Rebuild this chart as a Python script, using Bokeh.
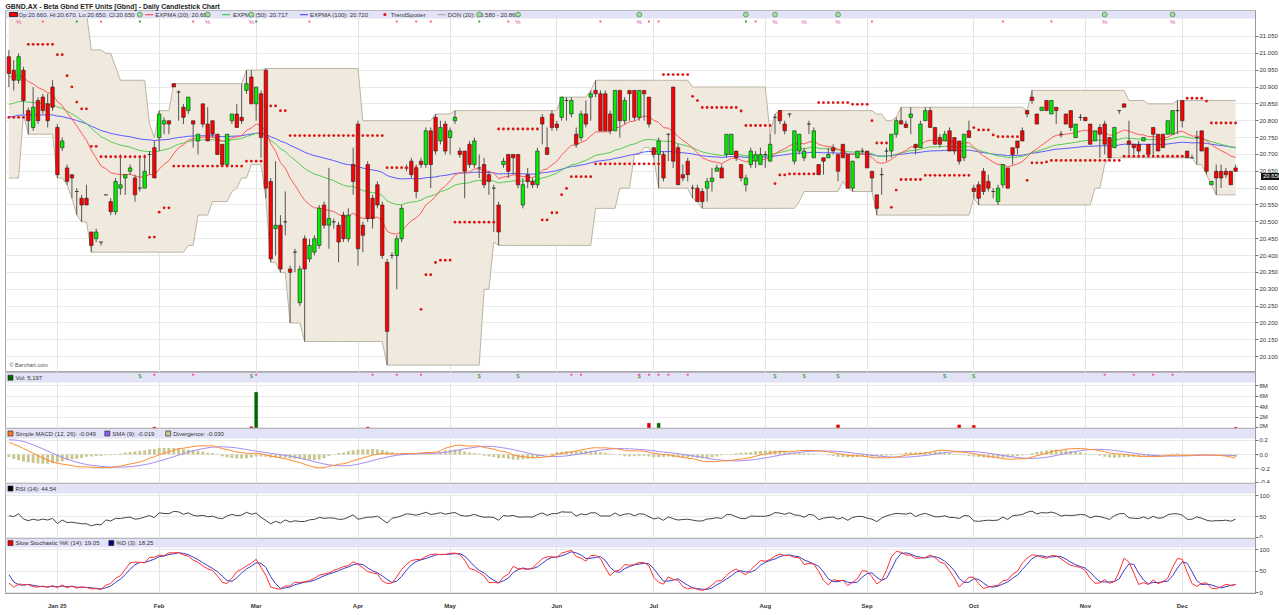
import numpy as np
from bokeh.plotting import figure
from bokeh.layouts import column
from bokeh.models import Range1d, FixedTicker, NumeralTickFormatter, PrintfTickFormatter, Label, Div
from bokeh.core.properties import value
from bokeh.embed import file_html
from bokeh.resources import INLINE

FONT = "Liberation Sans"
title_text = "GBND.AX - Beta Gbnd ETF Units [Gbnd] - Daily Candlestick Chart"

month_ticks = [10, 31, 51, 72, 91, 113, 133, 156, 177, 199, 222, 242]
month_labels = ["Jan 25", "Feb", "Mar", "Apr", "May", "Jun", "Jul", "Aug", "Sep", "Oct", "Nov", "Dec"]

# ---- daily OHLC (bar index 0 = 16 Dec 2024) ----
opens = [20.99,20.95,20.92,20.95,20.83,20.78,20.86,20.87,20.85,20.90,
 20.78,20.72,20.66,20.64,20.59,20.57,20.57,20.47,20.45,20.44,
 20.58,20.56,20.53,20.60,20.63,20.65,20.63,20.60,20.60,20.70,
 20.72,20.75,20.79,20.80,20.91,20.885,20.84,20.83,20.80,20.74,
 20.85,20.79,20.80,20.76,20.73,20.67,20.80,20.82,20.81,20.89,
 20.93,20.85,20.88,20.95,20.62,20.48,20.49,20.50,20.36,20.41,
 20.26,20.45,20.39,20.41,20.43,20.55,20.49,20.50,20.49,20.52,
 20.45,20.67,20.79,20.49,20.67,20.57,20.61,20.55,20.38,20.40,
 20.40,20.45,20.66,20.68,20.66,20.68,20.67,20.77,20.81,20.74,
 20.79,20.75,20.80,20.71,20.71,20.73,20.67,20.66,20.67,20.64,
 20.60,20.55,20.67,20.70,20.70,20.70,20.55,20.64,20.62,20.61,
 20.81,20.72,20.82,20.79,20.81,20.86,20.82,20.76,20.75,20.82,
 20.87,20.89,20.88,20.88,20.82,20.77,20.89,20.80,20.89,20.89,
 20.81,20.89,20.87,20.72,20.70,20.70,20.76,20.90,20.72,20.64,
 20.68,20.60,20.60,20.59,20.60,20.62,20.65,20.66,20.70,20.70,
 20.71,20.67,20.61,20.67,20.68,20.67,20.70,20.68,20.81,20.83,
 20.79,20.82,20.68,20.71,20.69,20.79,20.69,20.67,20.69,20.69,
 20.72,20.70,20.73,20.70,20.60,20.69,20.71,20.71,20.65,20.58,
 20.64,20.71,20.71,20.76,20.80,20.79,20.81,20.73,20.72,20.80,
 20.83,20.78,20.75,20.74,20.77,20.75,20.74,20.69,20.77,20.60,
 20.61,20.65,20.62,20.59,20.56,20.61,20.66,20.72,20.74,20.77,
 20.83,20.87,20.82,20.83,20.86,20.82,20.84,20.76,20.82,20.83,
 20.75,20.81,20.81,20.79,20.74,20.78,20.79,20.75,20.72,20.83,
 20.85,20.74,20.73,20.73,20.74,20.73,20.78,20.76,20.76,20.76,
 20.76,20.83,20.86,20.71,20.69,20.75,20.77,20.72,20.61,20.65,
 20.65,20.65,20.65,20.66]
highs = [21.01,20.98,21.00,20.96,20.84,20.90,20.87,20.88,20.88,20.92,
 20.79,20.75,20.67,20.64,20.60,20.58,20.61,20.47,20.48,20.44,
 20.58,20.57,20.63,20.70,20.64,20.67,20.64,20.69,20.70,20.71,
 20.74,20.83,20.81,20.80,20.91,20.89,20.85,20.87,20.80,20.76,
 20.85,20.84,20.80,20.76,20.73,20.76,20.82,20.85,20.91,20.95,
 20.95,20.90,20.89,20.955,20.63,20.68,20.52,20.59,20.37,20.42,
 20.37,20.46,20.45,20.46,20.55,20.56,20.66,20.51,20.50,20.53,
 20.54,20.72,20.80,20.50,20.68,20.58,20.62,20.56,20.39,20.41,
 20.46,20.55,20.67,20.69,20.67,20.69,20.78,20.78,20.82,20.80,
 20.80,20.78,20.83,20.72,20.71,20.74,20.75,20.70,20.69,20.65,
 20.61,20.56,20.69,20.70,20.70,20.70,20.63,20.66,20.63,20.72,
 20.82,20.78,20.83,20.80,20.87,20.87,20.87,20.78,20.83,20.86,
 20.89,20.92,20.89,20.89,20.83,20.89,20.89,20.87,20.89,20.89,
 20.89,20.89,20.87,20.72,20.75,20.71,20.76,20.90,20.73,20.67,
 20.69,20.61,20.61,20.60,20.63,20.66,20.67,20.67,20.76,20.76,
 20.71,20.67,20.64,20.72,20.71,20.72,20.71,20.76,20.82,20.83,
 20.80,20.82,20.77,20.76,20.72,20.80,20.78,20.67,20.69,20.72,
 20.73,20.70,20.73,20.70,20.68,20.71,20.72,20.71,20.65,20.58,
 20.66,20.72,20.76,20.81,20.84,20.80,20.84,20.73,20.80,20.84,
 20.84,20.78,20.76,20.77,20.78,20.75,20.74,20.76,20.80,20.61,
 20.62,20.66,20.64,20.60,20.61,20.67,20.66,20.72,20.74,20.78,
 20.83,20.89,20.82,20.84,20.86,20.86,20.84,20.77,20.82,20.83,
 20.79,20.82,20.81,20.79,20.77,20.79,20.80,20.75,20.78,20.83,
 20.85,20.80,20.73,20.74,20.75,20.73,20.78,20.76,20.76,20.80,
 20.83,20.86,20.86,20.71,20.70,20.77,20.77,20.72,20.62,20.67,
 20.67,20.66,20.65,20.67]
lows = [20.90,20.89,20.91,20.82,20.76,20.77,20.79,20.82,20.78,20.83,
 20.63,20.71,20.61,20.57,20.52,20.50,20.55,20.41,20.44,20.43,
 20.58,20.52,20.52,20.58,20.58,20.64,20.56,20.59,20.60,20.64,
 20.63,20.71,20.76,20.76,20.90,20.80,20.79,20.82,20.72,20.70,
 20.78,20.74,20.75,20.70,20.67,20.67,20.79,20.78,20.79,20.88,
 20.85,20.80,20.69,20.57,20.38,20.40,20.35,20.46,20.20,20.35,
 20.25,20.145,20.38,20.40,20.42,20.48,20.42,20.48,20.38,20.44,
 20.44,20.58,20.37,20.41,20.50,20.48,20.54,20.39,20.075,20.39,
 20.30,20.44,20.65,20.63,20.57,20.66,20.66,20.60,20.70,20.73,
 20.70,20.70,20.79,20.69,20.57,20.66,20.66,20.63,20.60,20.58,
 20.47,20.43,20.66,20.63,20.64,20.60,20.54,20.60,20.60,20.60,
 20.73,20.70,20.77,20.77,20.80,20.80,20.81,20.72,20.74,20.78,
 20.80,20.87,20.77,20.77,20.76,20.77,20.75,20.79,20.80,20.80,
 20.80,20.80,20.78,20.69,20.60,20.62,20.68,20.66,20.61,20.62,
 20.62,20.57,20.56,20.54,20.56,20.59,20.65,20.63,20.69,20.70,
 20.68,20.62,20.59,20.66,20.66,20.67,20.66,20.68,20.76,20.79,
 20.76,20.81,20.67,20.70,20.68,20.76,20.69,20.64,20.64,20.69,
 20.70,20.62,20.69,20.60,20.59,20.69,20.70,20.66,20.59,20.52,
 20.58,20.68,20.69,20.75,20.79,20.78,20.76,20.70,20.72,20.80,
 20.78,20.73,20.72,20.74,20.71,20.70,20.67,20.68,20.75,20.57,
 20.55,20.58,20.59,20.57,20.55,20.60,20.60,20.67,20.70,20.74,
 20.81,20.85,20.79,20.83,20.83,20.82,20.79,20.75,20.79,20.77,
 20.75,20.80,20.80,20.73,20.74,20.69,20.70,20.69,20.72,20.82,
 20.84,20.70,20.70,20.70,20.74,20.70,20.70,20.71,20.72,20.76,
 20.76,20.76,20.78,20.69,20.69,20.67,20.71,20.64,20.61,20.58,
 20.60,20.63,20.61,20.65]
closes = [20.94,20.92,20.99,20.86,20.80,20.84,20.80,20.83,20.80,20.84,
 20.64,20.74,20.62,20.63,20.59,20.55,20.55,20.43,20.47,20.44,
 20.58,20.53,20.62,20.61,20.64,20.66,20.58,20.60,20.65,20.70,
 20.63,20.82,20.80,20.79,20.90,20.885,20.81,20.87,20.79,20.76,
 20.79,20.74,20.76,20.70,20.67,20.76,20.82,20.78,20.80,20.91,
 20.85,20.90,20.75,20.60,20.39,20.49,20.36,20.50,20.35,20.41,
 20.36,20.36,20.43,20.45,20.54,20.49,20.51,20.50,20.44,20.45,
 20.52,20.62,20.42,20.46,20.51,20.51,20.55,20.40,20.175,20.40,
 20.45,20.54,20.66,20.64,20.59,20.67,20.77,20.67,20.71,20.78,
 20.71,20.77,20.81,20.70,20.65,20.67,20.74,20.66,20.61,20.62,
 20.60,20.47,20.68,20.65,20.69,20.61,20.61,20.62,20.61,20.71,
 20.79,20.70,20.78,20.78,20.87,20.86,20.86,20.73,20.82,20.79,
 20.88,20.88,20.77,20.77,20.77,20.89,20.80,20.86,20.88,20.81,
 20.89,20.88,20.79,20.70,20.74,20.63,20.76,20.68,20.61,20.63,
 20.64,20.60,20.56,20.56,20.62,20.63,20.66,20.63,20.76,20.76,
 20.69,20.63,20.63,20.71,20.70,20.70,20.70,20.73,20.81,20.80,
 20.77,20.82,20.77,20.76,20.71,20.79,20.77,20.64,20.68,20.70,
 20.71,20.65,20.69,20.60,20.68,20.71,20.71,20.66,20.63,20.54,
 20.64,20.71,20.76,20.80,20.79,20.78,20.82,20.72,20.79,20.83,
 20.78,20.73,20.73,20.76,20.71,20.71,20.68,20.76,20.75,20.59,
 20.57,20.59,20.60,20.59,20.60,20.67,20.60,20.70,20.72,20.74,
 20.82,20.86,20.79,20.84,20.83,20.86,20.83,20.76,20.79,20.78,
 20.79,20.81,20.80,20.73,20.77,20.76,20.73,20.69,20.78,20.83,
 20.84,20.73,20.72,20.71,20.75,20.70,20.76,20.71,20.72,20.80,
 20.83,20.83,20.80,20.69,20.69,20.75,20.71,20.65,20.62,20.63,
 20.63,20.64,20.61,20.65]

# ---- bars before the visible window (estimated), used only to warm up indicators ----
pre_close = [20.58,20.60,20.57,20.59,20.62,20.60,20.63,20.61,20.64,20.62,20.66,20.64,20.67,20.68,20.88,
             20.95,21.00,21.04,21.08,21.10,21.13,21.15,21.12,21.14,21.16,21.13,21.10,21.05,21.00,20.97]
pre_high = [20.60,20.62,20.60,20.61,20.64,20.63,20.65,20.64,20.66,20.65,20.68,20.67,20.69,20.70,20.90,
            20.97,21.02,21.06,21.10,21.12,21.15,21.17,21.15,21.16,21.18,21.16,21.13,21.12,21.01,20.99]
pre_low = [20.56,20.57,20.55,20.57,20.59,20.58,20.60,20.59,20.61,20.60,20.63,20.63,20.65,20.63,20.82,
           20.88,20.94,20.99,21.03,21.06,21.09,21.11,21.08,21.10,21.12,21.09,21.05,21.01,20.96,20.94]
ema_seed_20, ema_seed_50, ema_seed_100 = 20.93, 20.845, 20.808
stop_seed_lower = 20.81

# ---- volume (shares): only the days with visible bars ----
vol_index = [30, 50, 51, 74, 132, 134, 171, 196, 199, 253]
vol_shares = [60000, 120000, 6700000, 60000, 800000, 800000, 500000, 500000, 400000, 5197]

# ---- event markers (bar index) ----
event_circle_idx = [27, 41, 50, 97, 105, 130, 152, 158, 171, 226, 240]
dividend_idx = [2, 41, 50, 105, 130, 158, 164, 171, 226, 240]
red_event_idx = [7, 19, 38, 62, 80, 84, 87, 103, 122, 132, 134, 154, 178, 205, 215]
green_event_idx = [14, 27, 51, 97, 152]
dollar_idx = [27, 50, 97, 105, 130, 158, 164, 171, 193, 199]
pink_idx = [30, 38, 51, 75, 80, 85, 116, 118, 130, 132, 134, 136, 140, 226, 232, 236, 240]

# ---------------- indicators ----------------
n = len(closes)
NP = len(pre_close)
O = np.array(opens); Hh = np.array(highs); Ll = np.array(lows); Cc = np.array(closes)
CA = np.array(pre_close + closes); HA = np.array(pre_high + highs); LA = np.array(pre_low + lows)
xs = np.arange(n)

def ema_from(seed, k):
    a = 2.0 / (k + 1); e = seed; out = []
    for c in Cc:
        e = e + a * (c - e); out.append(e)
    return np.array(out)

ema20 = ema_from(ema_seed_20, 20); ema50 = ema_from(ema_seed_50, 50); ema100 = ema_from(ema_seed_100, 100)

def roll_mean(a, k):
    return np.array([a[max(0, t - k + 1):t + 1].mean() for t in range(len(a))])

macd_all = roll_mean(CA, 12) - roll_mean(CA, 26)
sig_all = roll_mean(macd_all, 9)
macd = macd_all[NP:]; sig = sig_all[NP:]; div = macd - sig

d = np.diff(CA)
g = np.where(d > 0, d, 0.0); l_ = np.where(d < 0, -d, 0.0)
ag = g[:14].mean(); al = l_[:14].mean()
rsi_all = np.full(len(CA), np.nan)
for t in range(14, len(CA)):
    if t > 14:
        ag = (ag * 13 + g[t - 1]) / 14; al = (al * 13 + l_[t - 1]) / 14
    rsi_all[t] = 100 - 100 / (1 + ag / al) if al > 0 else 100
rsi = rsi_all[NP:]

fastk = np.array([100 * (CA[t] - LA[max(0, t - 13):t + 1].min()) /
                  max(1e-9, HA[max(0, t - 13):t + 1].max() - LA[max(0, t - 13):t + 1].min())
                  for t in range(len(CA))])
slowk_all = roll_mean(fastk, 3); slowd_all = roll_mean(slowk_all, 3)
slowk = slowk_all[NP:]; slowd = slowd_all[NP:]

don_up = np.array([HA[t - 19:t + 1].max() for t in range(NP, NP + n)])
don_dn = np.array([LA[t - 19:t + 1].min() for t in range(NP, NP + n)])

# volatility trailing stop (TrendSpotter-like dots)
tr = np.concatenate([[HA[0] - LA[0]], np.maximum(HA[1:] - LA[1:],
                     np.maximum(np.abs(HA[1:] - CA[:-1]), np.abs(LA[1:] - CA[:-1])))])
atr = roll_mean(tr, 14)[NP:]
hl2 = (Hh + Ll) / 2
MULT = 2.6
ub = hl2 + MULT * atr; lb = hl2 - MULT * atr
stop = np.zeros(n); up = True; fub = 99.0; flb = stop_seed_lower
stop[0] = flb
for t in range(1, n):
    fub = ub[t] if (ub[t] < fub or Cc[t - 1] > fub) else fub
    flb = lb[t] if (lb[t] > flb or Cc[t - 1] < flb) else flb
    if up and Cc[t] < flb:
        up = False
    elif (not up) and Cc[t] > fub:
        up = True
    stop[t] = flb if up else fub

# ---------------- layout ----------------
FW = 1250
X0, X1 = -0.7, 257.1
XR = Range1d(X0, X1)
TXT = "#333333"
BAND = "#e3e3f8"

def xr(px):  # reference-page x pixel -> bar coordinate
    return X0 + (px - 5) / 4.857

def make_fig(fh, yr, ticks, fmt, xaxis=False):
    p = figure(frame_width=FW, frame_height=fh, x_range=XR, y_range=Range1d(*yr),
               output_backend="svg", toolbar_location=None, y_axis_location="right",
               x_axis_location="below" if xaxis else None,
               min_border_left=5, min_border_right=0, min_border_top=0, min_border_bottom=0,
               background_fill_color="white", border_fill_color="white")
    p.outline_line_color = "#a8a8a8"; p.outline_line_width = 1
    ax = p.yaxis[0]
    ax.ticker = FixedTicker(ticks=ticks)
    ax.formatter = fmt
    ax.major_label_text_font_size = "6px"
    ax.major_label_text_font = FONT
    ax.major_label_text_color = TXT
    ax.axis_line_color = "#9a9a9a"
    ax.major_tick_line_color = "#777777"
    ax.major_tick_in = 0; ax.major_tick_out = 3
    ax.minor_tick_line_color = None
    ax.major_label_standoff = 1
    p.ygrid.ticker = FixedTicker(ticks=ticks)
    p.ygrid.grid_line_color = "#e9e9e9"
    p.xgrid.ticker = FixedTicker(ticks=month_ticks)
    p.xgrid.grid_line_color = "#e3e3e3"
    return p

def band(p, y0, y1):
    p.quad(left=[X0], right=[X1], bottom=[y0], top=[y1], fill_color=BAND, line_color=None)

def legend_text(p, pxs, y, texts):
    p.text(x=[xr(v) for v in pxs], y=[y] * len(pxs), text=texts, text_font=value(FONT),
           text_font_size="6px", text_color=TXT, text_baseline="middle", text_align="left")

def swatch(p, px, y, color, marker="square", size=5):
    p.scatter(x=[xr(px)], y=[y], marker=marker, size=size, fill_color=color,
              line_color="#222222" if marker == "square" else color, line_width=0.6 if marker == "square" else 1.2)

# ---- main price panel ----
YMAIN = (20.053, 21.127)
MAIN_H = 362
price_ticks = [round(20.05 + 0.05 * k, 2) for k in range(21)]
pm = make_fig(MAIN_H, YMAIN, price_ticks, NumeralTickFormatter(format="0.000"))
pm.title.text = title_text
pm.title.text_font = FONT
pm.title.text_font_size = "6.9px"
pm.title.text_font_style = "bold"
pm.title.text_color = "#222222"
pm.title.align = "left"
pm.title.standoff = 1
pm.title.offset = 0

pm.varea(x=xs, y1=don_dn, y2=don_up, fill_color="#efe9de")
pm.line(xs, don_up, line_color="#bcb4a5", line_width=1)
pm.line(xs, don_dn, line_color="#bcb4a5", line_width=1)

pm.line(xs, ema100, line_color="#5b5bff", line_width=1)
pm.line(xs, ema50, line_color="#55cc55", line_width=1)
pm.line(xs, ema20, line_color="#ff5a5a", line_width=1)

pm.segment(x0=xs, y0=np.minimum(Ll, np.minimum(O, Cc)), x1=xs, y1=np.maximum(Hh, np.maximum(O, Cc)),
           line_color="#555555", line_width=1)
col = ["#00ee00" if c > o else "#ff0000" for o, c in zip(opens, closes)]
pm.vbar(x=xs, width=0.72, top=np.maximum(O, Cc), bottom=np.minimum(O, Cc), fill_color=col,
        line_color="#222222", line_width=0.6)

pm.scatter(xs, stop, marker="circle", size=2.8, fill_color="#dd1111", line_color=None)

band(pm, 21.103, 21.127)
yb = 21.115
pm.quad(left=[xr(9)], right=[xr(17)], bottom=[yb - 0.006], top=[yb + 0.006], fill_color="#ff0000",
        line_color="#111111", line_width=0.8)
legend_text(pm, [18], yb, ["Op:20.660, Hi:20.670, Lo:20.650, Cl:20.650"])
swatch(pm, 149, yb, "#ff5a5a", "dash", 8)
legend_text(pm, [155], yb, ["EXPMA (20): 20.688"])
swatch(pm, 226, yb, "#55cc55", "dash", 8)
legend_text(pm, [233], yb, ["EXPMA (50): 20.717"])
swatch(pm, 304, yb, "#5b5bff", "dash", 8)
legend_text(pm, [310], yb, ["EXPMA (100): 20.720"])
pm.scatter([xr(385)], [yb], marker="circle", size=3, fill_color="#dd1111", line_color=None)
legend_text(pm, [391], yb, ["TrendSpotter"])
swatch(pm, 442, yb, "#aaaaaa", "dash", 8)
legend_text(pm, [448], yb, ["DON (20): 20.580 - 20.860"])

pm.scatter(event_circle_idx, [yb] * len(event_circle_idx), marker="circle", size=5,
           fill_color="#a8d8a8", line_color="#4c9a4c", line_width=0.8)
ye = 21.094
pm.text(x=dividend_idx, y=[ye] * len(dividend_idx), text=["%"] * len(dividend_idx), text_font=value(FONT),
        text_font_size="6px", text_color="#e0559a", text_align="center", text_baseline="middle")
pm.scatter(red_event_idx, [ye] * len(red_event_idx), marker="square", size=2, fill_color="#ff6677", line_color=None)
pm.scatter(green_event_idx, [ye] * len(green_event_idx), marker="square", size=2, fill_color="#33aa33", line_color=None)

pm.add_layout(Label(x=xr(9), y=20.074, text="\u00a9 Barchart.com", text_font=FONT, text_font_size="5.5px",
                    text_color="#555555", text_baseline="middle"))

# ---- volume panel ----
vols = [v / 1e6 for v in vol_shares]
vcol = ["#006400" if closes[i] > opens[i] else "#dd0000" for i in vol_index]
pv = make_fig(56, (-0.19, 10.48), [0, 2, 4, 6, 8], PrintfTickFormatter(format="%dM"))
pv.vbar(x=vol_index, width=0.6, top=vols, bottom=0, fill_color=vcol, line_color=vcol, line_width=0.5)
band(pv, 8.57, 10.48)
yv = 9.5
swatch(pv, 10, yv, "#006400")
legend_text(pv, [15], yv, ["Vol: 5,197"])
pv.text(x=dollar_idx, y=[9.9] * len(dollar_idx), text=["$"] * len(dollar_idx), text_font=value(FONT),
        text_font_size="6px", text_color="#339933", text_align="center", text_baseline="middle")
pv.scatter(pink_idx, [10.05] * len(pink_idx), marker="square", size=2, fill_color="#ff55aa", line_color=None)

# ---- MACD panel ----
pmacd = make_fig(55, (-0.408, 0.366), [-0.4, -0.2, 0.0, 0.2], NumeralTickFormatter(format="0.0"))
pmacd.vbar(x=xs, width=0.6, top=np.maximum(div, 0), bottom=np.minimum(div, 0), fill_color="#c9c68f",
           line_color=None)
pmacd.line(xs, sig, line_color="#a58cf2", line_width=1)
pmacd.line(xs, macd, line_color="#ff8c33", line_width=1)
band(pmacd, 0.225, 0.366)
ym = 0.295
swatch(pmacd, 10, ym, "#ff7a1a")
legend_text(pmacd, [15], ym, ["Simple MACD (12, 26): -0.049"])
swatch(pmacd, 107, ym, "#8b5cf0")
legend_text(pmacd, [112], ym, ["SMA (9): -0.019"])
swatch(pmacd, 168, ym, "#c9c68f")
legend_text(pmacd, [173], ym, ["Divergence: -0.030"])

# ---- RSI panel ----
prsi = make_fig(55, (-1.7, 128.4), [0, 50, 100], NumeralTickFormatter(format="0"))
prsi.line(xs, rsi, line_color="#444444", line_width=1)
band(prsi, 104.7, 128.4)
swatch(prsi, 10, 116.5, "#000000")
legend_text(prsi, [15], 116.5, ["RSI (14): 44.54"])

# ---- Stochastic panel ----
pst = make_fig(55, (-2.3, 125.6), [0, 50, 100], NumeralTickFormatter(format="0"), xaxis=True)
pst.line(xs, slowd, line_color="#3a3ac8", line_width=1)
pst.line(xs, slowk, line_color="#ff3030", line_width=1)
band(pst, 104.7, 125.6)
swatch(pst, 10, 115, "#ee0000")
legend_text(pst, [15], 115, ["Slow Stochastic %K (14): 19.05"])
swatch(pst, 111, 115, "#000080")
legend_text(pst, [116], 115, ["%D (3): 18.25"])
xa = pst.xaxis[0]
xa.ticker = FixedTicker(ticks=month_ticks)
xa.major_label_overrides = {t: s for t, s in zip(month_ticks, month_labels)}
xa.major_label_text_font = FONT
xa.major_label_text_font_size = "6px"
xa.major_label_text_font_style = "bold"
xa.major_label_text_color = TXT
xa.axis_line_color = "#9a9a9a"
xa.major_tick_line_color = None
xa.minor_tick_line_color = None
xa.major_label_standoff = 3

# last-price tag over the price axis (HTML element positioned on the page)
tag_top = 11 + (YMAIN[1] - closes[-1]) / (YMAIN[1] - YMAIN[0]) * MAIN_H - 3.5
tag = Div(text="20.650", styles={"position": "absolute", "left": "1256px", "top": "%.1fpx" % tag_top,
                                 "background-color": "#111111", "color": "white",
                                 "font-family": FONT, "font-size": "6px", "line-height": "7px",
                                 "padding": "0px 2px", "z-index": "10"})

layout = column(pm, pv, pmacd, prsi, pst, tag)
open("out.html", "w").write(file_html(layout, INLINE))
